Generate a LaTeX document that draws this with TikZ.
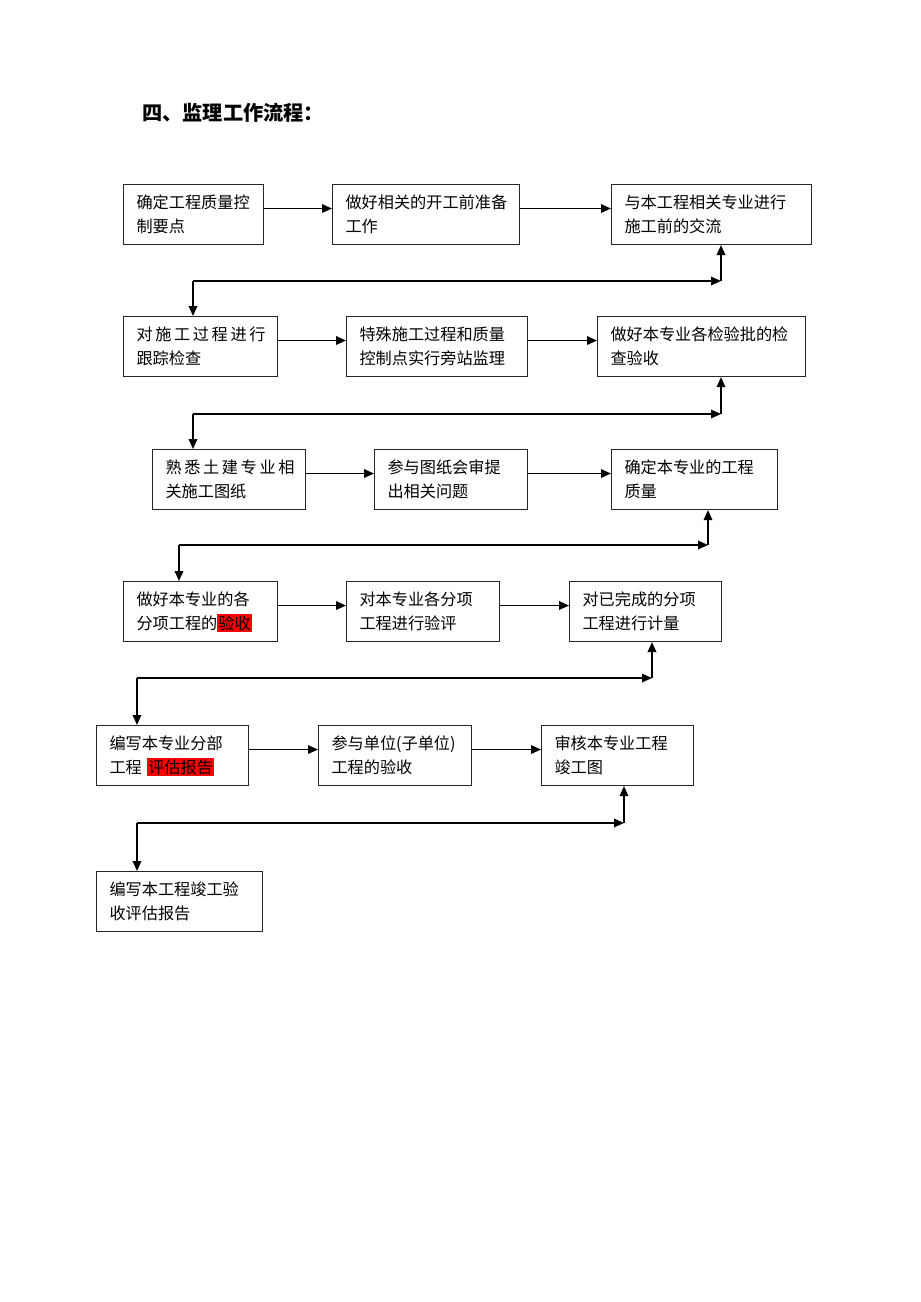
\documentclass[tikz,border=0pt]{standalone}
\usepackage{fontspec}
\setmainfont{Noto Sans CJK SC}
\usetikzlibrary{arrows.meta}
\definecolor{markred}{RGB}{255,0,0}
\newcommand{\redmark}[1]{{\setlength{\fboxsep}{0.6pt}\colorbox{markred}{#1}}}
\newcommand{\sgap}{\kern1.5pt}

\begin{document}
\begin{tikzpicture}[x=0.02cm,y=-0.02cm,
        box/.style={draw=black!85,line width=0.6pt,anchor=north west,align=left,
          inner xsep=0.26cm,inner ysep=0pt,minimum width=#1*0.02cm,
          text width=#1*0.02cm-0.52cm,minimum height=1.2cm,
          font=\fontsize{9.2pt}{13.6pt}\selectfont},
        flow/.style={line width=1pt,-{Triangle[length=0.2cm,width=0.17cm]}},
        ]
        \useasboundingbox (0,0) rectangle (920,1302);
        \node[anchor=west,font=\fontsize{11.5pt}{14pt}\selectfont\bfseries] (title) at (136,113) {四、监理工作流程：};
        % row 1
        \node[box=140] (a1) at (123,184) {确定工程质量控\\制要点};
        \node[box=187] (a2) at (332,184) {做好相关的开工前准备\\工作};
        \node[box=200] (a3) at (611,184) {与本工程相关专业进行\\施工前的交流};
        % row 2
        \node[box=154] (b1) at (123,316) {对\sgap 施\sgap 工\sgap 过\sgap 程\sgap 进\sgap 行\\跟踪检查};
        \node[box=181] (b2) at (346,316) {特殊施工过程和质量\\控制点实行旁站监理};
        \node[box=208] (b3) at (597,316) {做好本专业各检验批的检\\查验收};
        % row 3
        \node[box=153] (c1) at (152,449) {熟\sgap 悉\sgap 土\sgap 建\sgap 专\sgap 业\sgap 相\\关施工图纸};
        \node[box=153] (c2) at (374,449) {参与图纸会审提\\出相关问题};
        \node[box=166] (c3) at (611,449) {确定本专业的工程\\质量};
        % row 4
        \node[box=154] (d1) at (123,581) {做好本专业的各\\分项工程的\redmark{验收}};
        \node[box=153] (d2) at (346,581) {对本专业各分项\\工程进行验评};
        \node[box=152] (d3) at (569,581) {对已完成的分项\\工程进行计量};
        % row 5
        \node[box=152] (e1) at (96,725) {编写本专业分部\\工程 \redmark{评估报告}};
        \node[box=153] (e2) at (318,725) {参与单位(子单位)\\工程的验收};
        \node[box=152] (e3) at (541,725) {审核本专业工程\\竣工图};
        % row 6
        \node[box=166] (f1) at (96,871) {编写本工程竣工验\\收评估报告};

        % arrows along the rows
        \foreach \p/\q in {a1/a2,a2/a3,b1/b2,b2/b3,c1/c2,c2/c3,d1/d2,d2/d3,e1/e2,e2/e3}
          \draw[flow] ([yshift=1.2mm]\p.east) -- ([yshift=1.2mm]\p.east -| \q.west);

        % links between rows
        \coordinate (r1) at (721,281); \coordinate (l1) at (193,281);
        \coordinate (r2) at (721,414); \coordinate (l2) at (193,414);
        \coordinate (r3) at (708,545); \coordinate (l3) at (179,545);
        \coordinate (r4) at (652,678); \coordinate (l4) at (137,678);
        \coordinate (r5) at (624,823); \coordinate (l5) at (137,823);
        \foreach \r/\l/\u/\v in {r1/l1/a3/b1,r2/l2/b3/c1,r3/l3/c3/d1,r4/l4/d3/e1,r5/l5/e3/f1}{
          \draw[flow] (\r) -- (\r |- \u.south);
          \draw[flow] (\l) -- (\r);
          \draw[flow] (\l) -- (\l |- \v.north);
        }
      \end{tikzpicture}
\end{document}
